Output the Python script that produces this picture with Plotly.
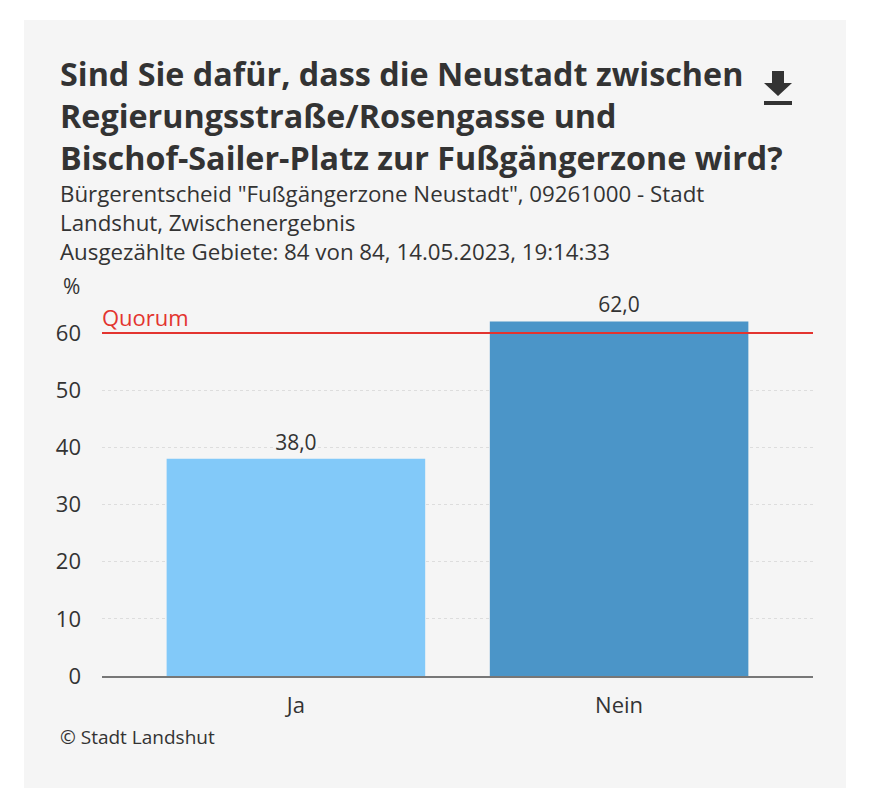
import plotly.graph_objects as go

# data
categories = ["Ja", "Nein"]
percent = [38.0, 62.0]
bar_colors = ["#82c9f9", "#4b95c8"]
quorum = 60
y_ticks = [0, 10, 20, 30, 40, 50, 60]

title_lines = ["Sind Sie dafür, dass die Neustadt zwischen",
               "Regierungsstraße/Rosengasse und",
               "Bischof-Sailer-Platz zur Fußgängerzone wird?"]
subtitle_lines = ['Bürgerentscheid "Fußgängerzone Neustadt", 09261000 - Stadt',
                  "Landshut, Zwischenergebnis",
                  "Ausgezählte Gebiete: 84 von 84, 14.05.2023, 19:14:33"]
source = "© Stadt Landshut"

OFF = 8  # page body margin
W, H = 872 - OFF, 810 - OFF
L, R, T, B = 102 - OFF, 59, 310 - OFF, 134
FONT = "Open Sans"
TXT = "#333333"
RED = "#e3342f"


# page pixel -> paper helpers (for decoration outside the plot area)
def px(x):
    return (x - OFF - L) / (W - L - R)


def py(y):
    return (H - B - (y - OFF)) / (H - T - B)


fig = go.Figure()
fig.add_trace(go.Bar(x=categories, y=percent,
                     marker=dict(color=bar_colors, line=dict(width=0)),
                     width=0.8,
                     texttemplate="%{y:.1f}", textposition="outside",
                     textfont=dict(size=21, color=TXT, family=FONT),
                     cliponaxis=False, hoverinfo="skip"))

shapes = [
    # grey card
    dict(type="rect", xref="paper", yref="paper", x0=px(24), x1=px(846), y0=py(788), y1=py(20),
         fillcolor="#f5f5f5", line=dict(width=0), layer="below"),
    # quorum line
    dict(type="line", xref="paper", yref="y", x0=0, x1=1, y0=quorum, y1=quorum,
         line=dict(color=RED, width=2)),
    # download icon
    dict(type="path", xref="paper", yref="paper",
         path=f"M {px(772)},{py(71)} L {px(784)},{py(71)} L {px(784)},{py(83)} L {px(792)},{py(83)} "
              f"L {px(778)},{py(96)} L {px(764)},{py(83)} L {px(772)},{py(83)} Z",
         fillcolor="#333333", line=dict(width=0)),
    dict(type="rect", xref="paper", yref="paper", x0=px(764), x1=px(792), y0=py(105), y1=py(101),
         fillcolor="#333333", line=dict(width=0)),
]

annotations = [
    dict(text="<br>".join(title_lines), xref="paper", yref="paper", x=px(58), y=py(115),
         xanchor="left", yanchor="middle", align="left", showarrow=False,
         font=dict(size=32.3, color=TXT, family=FONT, weight="bold")),
    dict(text="<br>".join(subtitle_lines), xref="paper", yref="paper", x=px(58), y=py(222.5),
         xanchor="left", yanchor="middle", align="left", showarrow=False,
         font=dict(size=22.3, color=TXT, family=FONT)),
    dict(text="%", xref="paper", yref="paper", x=px(82), y=py(286),
         xanchor="right", yanchor="middle", showarrow=False,
         font=dict(size=21, color=TXT, family=FONT)),
    dict(text="Quorum", xref="paper", yref="y", x=0, y=quorum, xshift=-2, yshift=-1,
         xanchor="left", yanchor="bottom", showarrow=False,
         font=dict(size=22, color=RED, family=FONT)),
    dict(text=source, xref="paper", yref="paper", x=px(58), y=py(737),
         xanchor="left", yanchor="middle", showarrow=False,
         font=dict(size=19, color=TXT, family=FONT)),
]

fig.update_layout(
    width=W, height=H,
    margin=dict(l=L, r=R, t=T, b=B),
    paper_bgcolor="white", plot_bgcolor="rgba(0,0,0,0)",
    separators=",.",
    showlegend=False,
    font=dict(family=FONT, color=TXT, size=20),
    shapes=shapes, annotations=annotations,
)
fig.update_xaxes(range=[-0.6, 1.6], showgrid=False, showline=True, linecolor="#777777", linewidth=2,
                 ticks="", ticklabelstandoff=9, tickfont=dict(size=22, color=TXT))
fig.update_yaxes(range=[0, 64], tickvals=y_ticks, showgrid=True, gridcolor="#dddddd", griddash="3px,3px",
                 zeroline=False, ticks="", ticklabelstandoff=20, tickfont=dict(size=22, color=TXT))

fig.write_html("out.html")
